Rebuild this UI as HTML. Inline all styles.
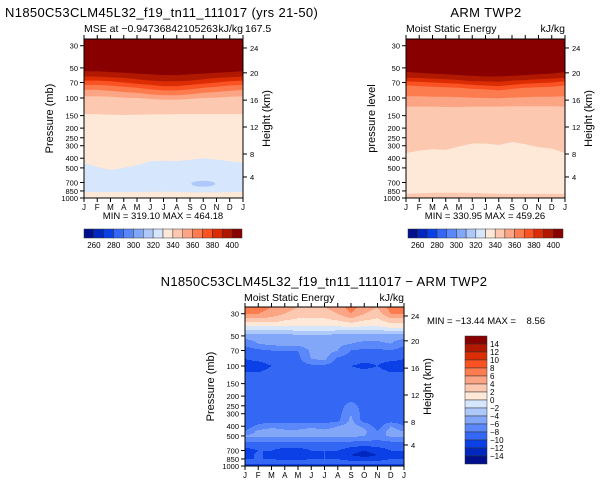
<!DOCTYPE html>
<html><head><meta charset="utf-8">
<style>
body{margin:0;background:#fff;width:601px;height:485px;overflow:hidden;font-family:"Liberation Sans",sans-serif}
svg{display:block}
text{font-family:"Liberation Sans",sans-serif;fill:#000}
</style></head>
<body>
<svg id="c" width="601" height="485" viewBox="0 0 601 485" xmlns="http://www.w3.org/2000/svg">
<text x="5" y="17" font-size="13" letter-spacing="0.35">N1850C53CLM45L32_f19_tn11_111017 (yrs 21-50)</text>
<text x="84" y="32" font-size="10.5">MSE at −0.94736842105263</text>
<text x="243" y="32" font-size="10.5" text-anchor="end">kJ/kg</text>
<text x="245" y="32" font-size="10.5">167.5</text>
<text x="486" y="17" font-size="13" text-anchor="middle" letter-spacing="0.35">ARM TWP2</text>
<text x="406" y="32" font-size="10.5">Moist Static Energy</text>
<text x="565" y="32" font-size="10.5" text-anchor="end">kJ/kg</text>
<text x="324" y="286" font-size="13" text-anchor="middle" letter-spacing="0.3">N1850C53CLM45L32_f19_tn11_111017 − ARM TWP2</text>
<text x="244" y="301" font-size="10.5">Moist Static Energy</text>
<text x="404" y="301" font-size="10.5" text-anchor="end">kJ/kg</text>
<text x="163" y="219" font-size="9.5" text-anchor="middle">MIN = 319.10 MAX = 464.18</text>
<text x="485" y="219" font-size="9.5" text-anchor="middle">MIN = 330.95 MAX = 459.26</text>
<text x="427" y="324" font-size="9.5" xml:space="preserve">MIN = −13.44 MAX =    8.56</text>
</svg>
<script>
const palette=["#00108c","#0028c0","#0a40e6","#3468f4","#5a88fa","#82a6f8","#aec8fa","#d6e6fc","#fee8d8","#fcc8b0","#fca584","#fc7c50","#fa5222","#dc2c04","#b01800","#880000"];
const months=["J","F","M","A","M","J","J","A","S","O","N","D","J"];
const pTicks=[30,50,70,100,150,200,250,300,400,500,700,850,1000];
const hTicks=[4,8,12,16,20,24];
const hTickP=[616,363,195,105,56,31.6];
const mseTickLabels=["260","280","300","320","340","360","380","400"];
const diffTickLabels=["14","12","10","8","6","4","2","0","−2","−4","−6","−8","−10","−12","−14"];
const modelB1=[54,54,55,56,57,58,59,59,58,57,56,55,54];
const modelB2=[61,61,62,63,65,67,68,68,67,65,63,62,61];
const modelB3=[67,67,68,70,72,74,76,76,74,72,70,68,67];
const modelB4=[74,74,75,77,79,82,84,84,82,79,77,75,74];
const modelB5=[83,83,85,87,89,92,94,94,92,89,87,85,83];
const modelB6=[96,96,97,99,100,102,104,104,102,100,99,97,96];
const modelB7=[145,145,147,148,147,146,146,145,145,145,145,145,145];
const modelB8=[450,490,525,500,470,430,425,430,415,400,415,430,445];
const modelB9=[870,870,870,870,870,868,865,870,880,880,880,875,870];
const modelColors=[15,14,13,12,11,10,9,8,7,8];
const modelBlob=[9,720,0.45,25];
const obsB1=[55,56,57,58,59,60,61,61,60,59,58,57,55];
const obsB2=[63,63,64,65,66,68,68,69,67,66,65,64,63];
const obsB3=[68,69,70,71,72,74,75,76,74,72,71,70,68];
const obsB4=[75,76,77,78,79,81,82,84,81,79,78,77,75];
const obsB5=[96,96,97,97,98,99,100,101,99,98,97,97,96];
const obsB6=[122,122,122,123,123,122,122,122,121,121,121,121,122];
const obsB7=[355,335,325,330,305,285,285,295,275,290,310,320,355];
const obsB8=[910,895,885,885,885,890,900,905,910,910,910,910,910];
const obsColors=[15,14,13,12,11,10,9,8,9];
const diffP=[25.7,30,35,40,45,50,60,70,85,100,125,150,200,270,350,400,450,500,600,700,775,850,925,1000];
const diffV=[
[7,7,6,5,4,4,4,5,7,5,4,7,7],
[6,6,5,4,3,3,3,4,6,4,3,6,6],
[3,3,3,2,1.5,1.5,1.5,2,3,2,1.5,3,3],
[0,0,0,0,0,0,0,0,0.5,0,0,1,1],
[-3,-3,-3,-3,-2,-2,-2,-2.5,-3,-3,-3,-2,-2],
[-5,-5,-5,-5,-4.5,-4.5,-4.5,-5,-5,-5,-5,-5,-5],
[-7.5,-6,-5.5,-5,-5,-5,-5,-5.5,-6,-6.5,-6.5,-6,-7.5],
[-9,-8.5,-8,-8,-8,-5.5,-5,-6,-8,-8.5,-8.5,-8,-9],
[-10,-9.5,-9,-9,-8.5,-6,-5.5,-8.5,-9,-9.5,-9.5,-9.5,-10],
[-11,-11,-10,-9,-9,-8.5,-8.5,-9,-10,-10.5,-10,-11,-11],
[-9.5,-9.5,-9,-9,-9,-9,-9,-9,-9,-9,-9,-9.5,-9.5],
[-9,-9,-9,-9,-9,-9,-9,-9,-9,-9,-9,-9,-9],
[-9,-9,-9,-9,-9,-9,-9,-9,-9,-9,-9,-9,-9],
[-9,-9,-9,-9,-9,-9,-9,-9,-6.5,-9,-9,-9,-9],
[-9,-9,-9,-9,-9,-9,-9,-8.5,-5.5,-9,-9,-9,-9],
[-9,-7.5,-6.5,-7,-7,-6.5,-7,-6,-5,-6.5,-9,-6,-8],
[-8,-5.5,-5,-5.5,-5.5,-5,-5.5,-5,-5,-5.5,-8,-5,-6],
[-5.5,-5.5,-5.5,-5.5,-5.5,-5.5,-5.5,-5.5,-5.5,-6,-7,-5.5,-5.5],
[-8.5,-8.5,-8.5,-8.5,-8.5,-8.5,-8.5,-8.5,-9,-9,-9,-9,-9],
[-11,-10,-10,-11,-11,-10,-10,-10,-11,-12,-11,-10,-10],
[-11,-9.5,-11,-12,-12,-11,-10,-10.5,-12,-13,-12,-11,-10],
[-10,-10,-10,-10.5,-10.5,-10,-10,-10,-11,-11,-11,-10,-10],
[-9,-9,-9,-9,-9,-9,-9,-9,-9,-9,-9,-9,-9],
[-11,-11,-11,-11,-11,-11,-11,-11,-11,-11,-11,-11,-11]];

const NS="http://www.w3.org/2000/svg";
const svg=document.getElementById('c');
function mk(tag,attrs,parent){const e=document.createElementNS(NS,tag);for(const k in attrs)e.setAttribute(k,attrs[k]);(parent||svg).appendChild(e);return e;}
const PTOP=25.7,PBOT=1000;
function axes(x0,y0,w,h){
  return {x:m=>x0+w*m/12,y:p=>y0+h*(Math.log10(p)-Math.log10(PTOP))/(Math.log10(PBOT)-Math.log10(PTOP))};
}
function bandPlot(name,x0,y0,w,h,bounds,colors){
  const a=axes(x0,y0,w,h);
  const g=mk('g',{});
  
  
  const bg=mk('rect',{x:x0,y:y0,width:w,height:h,fill:palette[colors[0]]},g);
  
  
  bounds.forEach((b,i)=>{
    let d='M'+a.x(0)+','+(y0+h);
    b.forEach((p,m)=>{d+=' L'+a.x(m).toFixed(1)+','+a.y(p).toFixed(1);});
    d+=' L'+a.x(12)+','+(y0+h)+' Z';
    const pa=mk('path',{d:d,fill:palette[colors[i+1]]},g);
    
    
  });
  return a;
}
function frame(name,x0,y0,w,h,leftTitle){
  const a=axes(x0,y0,w,h);
  const f=mk('rect',{x:x0,y:y0,width:w,height:h,fill:'none',stroke:'#000','stroke-width':1});
  
  
  months.forEach((mo,m)=>{
    const x=a.x(m);
    const t1=mk('line',{x1:x,x2:x,y1:y0+h,y2:y0+h+4,stroke:'#000'});
    
    
    const t2=mk('line',{x1:x,x2:x,y1:y0,y2:y0-4,stroke:'#000'});
    
    
    const tx=mk('text',{x:x,y:y0+h+12,'font-size':8,'text-anchor':'middle'});
    tx.textContent=mo;
    
    
  });
  pTicks.forEach(p=>{
    const y=a.y(p);
    const t=mk('line',{x1:x0-4,x2:x0,y1:y,y2:y,stroke:'#000'});
    
    
    const tx=mk('text',{x:x0-6,y:y+3,'font-size':7.5,'text-anchor':'end'});
    tx.textContent=p;
    
    
  });
  hTicks.forEach((hk,i)=>{
    const y=a.y(hTickP[i]);
    const t=mk('line',{x1:x0+w,x2:x0+w+4,y1:y,y2:y,stroke:'#000'});
    
    
    const tx=mk('text',{x:x0+w+7,y:y+3,'font-size':7.5});
    tx.textContent=hk;
    
    
  });
  const cy=y0+h/2;
  const lt=mk('text',{x:0,y:0,'font-size':11,'text-anchor':'middle',transform:'translate('+(x0-31)+','+cy+') rotate(-90)'});
  lt.textContent=leftTitle;
  
  
  const rt=mk('text',{x:0,y:0,'font-size':11,'text-anchor':'middle',transform:'translate('+(x0+w+27)+','+cy+') rotate(-90)'});
  rt.textContent='Height (km)';
  
  
}
function hbar(name,x0,y0,w,h,labels){
  const bw=w/16;
  for(let i=0;i<16;i++){
    const r=mk('rect',{x:x0+i*bw,y:y0,width:bw,height:h,fill:palette[i],stroke:'#333','stroke-width':0.5});
    
    
  }
  labels.forEach((l,k)=>{
    const t=mk('text',{x:x0+(1+2*k)*bw,y:y0+h+10,'font-size':8,'text-anchor':'middle'});
    t.textContent=l;
    
    
  });
}
const am=bandPlot('model',84,39,159,159,[modelB1,modelB2,modelB3,modelB4,modelB5,modelB6,modelB7,modelB8,modelB9],modelColors);
const blob=mk('ellipse',{cx:am.x(modelBlob[0]),cy:am.y(modelBlob[1]),rx:159/12*modelBlob[2]*2,ry:3,fill:palette[6]});


frame('model',84,39,159,159,'Pressure (mb)');
hbar('model-colorbar',84,229,158,9,mseTickLabels);
bandPlot('obs',406,39,159,159,[obsB1,obsB2,obsB3,obsB4,obsB5,obsB6,obsB7,obsB8],obsColors);
frame('obs',406,39,159,159,'pressure level');
hbar('obs-colorbar',408,229,155,9,mseTickLabels);
(function(){
  const x0=245,y0=307,w=159,h=159;
  const g=mk('g',{});
  
  
  const lp=diffP.map(p=>Math.log10(p));
  function val(m,lpv){
    let j=0;while(j<lp.length-2&&lpv>lp[j+1])j++;
    const t=Math.max(0,Math.min(1,(lpv-lp[j])/(lp[j+1]-lp[j])));
    const i=Math.min(11,Math.floor(m));const s=m-i;
    const r0=diffV[j],r1=diffV[j+1];
    const v0=r0[i]*(1-s)+r0[i+1]*s, v1=r1[i]*(1-s)+r1[i+1]*s;
    return v0*(1-t)+v1*t;
  }
  function idx(v){return Math.max(0,Math.min(15,Math.floor((v+16)/2)));}
  for(let py=0;py<h;py++){
    const lpv=Math.log10(PTOP)+(py+0.5)/h*(Math.log10(PBOT)-Math.log10(PTOP));
    let start=0,cur=idx(val(0.5/w*12,lpv));
    for(let px=1;px<=w;px++){
      const c=px<w?idx(val((px+0.5)/w*12,lpv)):-1;
      if(c!==cur){
        const r=mk('rect',{x:x0+start,y:y0+py,width:px-start,height:1.05,fill:palette[cur]},g);
        
        
        start=px;cur=c;
      }
    }
  }
  frame('diff',x0,y0,w,h,'Pressure (mb)');
  const bx=465,by=336,bw=22,bh=8;
  for(let i=0;i<16;i++){
    const r=mk('rect',{x:bx,y:by+i*bh,width:bw,height:bh,fill:palette[15-i],stroke:'#333','stroke-width':0.5});
    
    
  }
  diffTickLabels.forEach((l,k)=>{
    const t=mk('text',{x:bx+bw+3,y:by+(k+1)*bh+3,'font-size':8});
    t.textContent=l;
    
    
  });
})();
</script>
</body></html>
